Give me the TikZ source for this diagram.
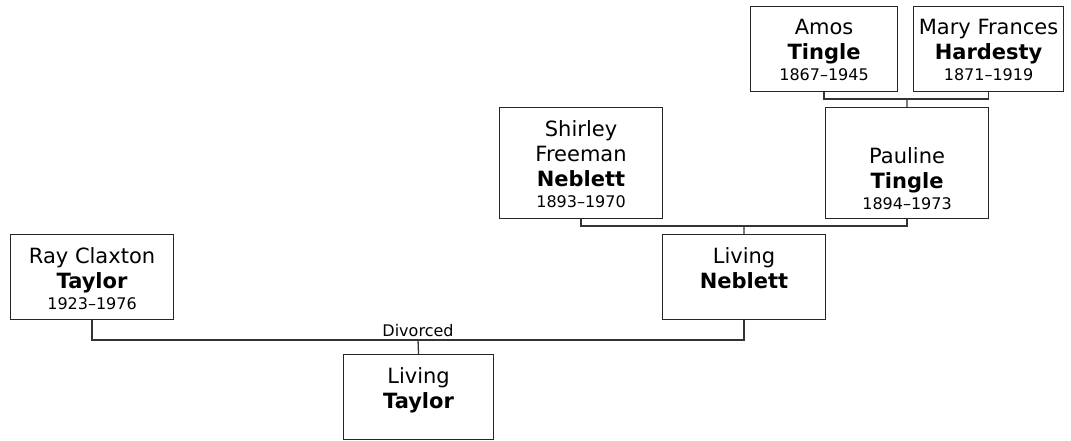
\documentclass[tikz,border=0pt]{standalone}
\usepackage{fontspec}
\setmainfont{DejaVu Sans}
\newcommand{\yrs}[1]{{\fontsize{16}{18}\selectfont #1}}
\tikzset{
  person/.style={draw=black!85, line width=1.1pt, anchor=north west, inner sep=0pt,
    minimum width=163pt, minimum height=85pt},
  who/.style={anchor=north, align=center, inner sep=0pt, yshift=-13pt,
    font=\fontsize{21}{25}\selectfont},
  kin/.style={draw=black!80, line width=1.3pt},
}
\begin{document}
\begin{tikzpicture}[x=1pt,y=-1pt]
\useasboundingbox (0,0) rectangle (1071,441);
% grandparents
\node[person, minimum width=147pt, label={[who]north:Amos\\\textbf{Tingle}\\[-4pt]\yrs{1867–1945}}] (amos) at (750,6) {};
\node[person, minimum width=150pt, label={[who]north:Mary Frances\\\textbf{Hardesty}\\[-4pt]\yrs{1871–1919}}] (mary) at (913,6) {};
% parents
\node[person, minimum height=111pt, label={[who]north:Shirley\\Freeman\\\textbf{Neblett}\\[-4pt]\yrs{1893–1970}}] (shirley) at (499,107) {};
\node[person, minimum height=111pt, label={[who, yshift=-27pt]north:Pauline\\\textbf{Tingle}\\[-4pt]\yrs{1894–1973}}] (pauline) at (825,107) {};
\node[person, label={[who]north:Ray Claxton\\\textbf{Taylor}\\[-4pt]\yrs{1923–1976}}] (ray) at (10,234) {};
\node[person, label={[who]north:Living\\\textbf{Neblett}}] (neblett) at (662,234) {};
\node[person, minimum width=150pt, label={[who]north:Living\\\textbf{Taylor}}] (taylor) at (343,354) {};
% family lines
\coordinate (tingleJoin) at (907,99);
\coordinate (neblettJoin) at (744,226);
\coordinate (taylorJoin) at (418,340);
\draw[kin] (amos.south) |- (tingleJoin) -| (mary.south);
\draw[kin] (tingleJoin) -- (pauline.north);
\draw[kin] (shirley.south) |- (neblettJoin) -| (pauline.south);
\draw[kin] (neblettJoin) -- (neblett.north);
\draw[kin] (ray.south) |- (taylorJoin) -| (neblett.south);
\draw[kin] (taylorJoin) -- (taylor.north);
\node[anchor=base, inner sep=0pt, font=\fontsize{16}{18}\selectfont] (divorced) at (418,336) {Divorced};
\end{tikzpicture}
\end{document}
